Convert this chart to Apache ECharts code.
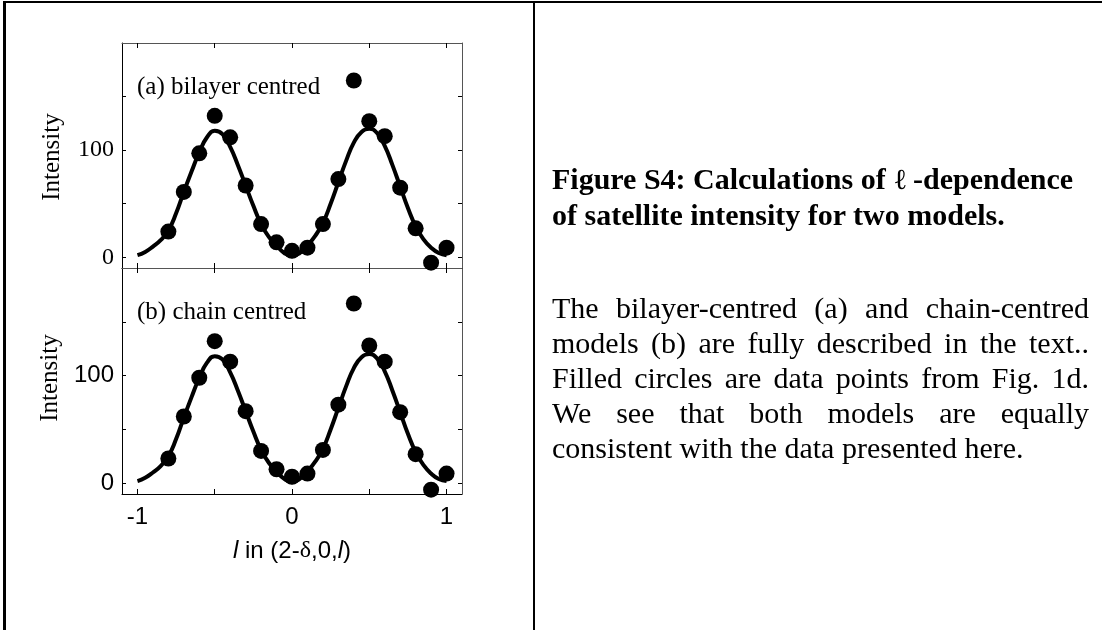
<!DOCTYPE html>
<html>
<head>
<meta charset="utf-8">
<script src="https://cdn.jsdelivr.net/npm/echarts@6/dist/echarts.min.js"></script>
<style>
  html, body { margin: 0; padding: 0; background: #fff; }
  #wrap { position: relative; width: 1102px; height: 630px; overflow: hidden; }
  #chart { position: absolute; left: 0; top: 0; width: 1102px; height: 630px; }
  .caption { position: absolute; left: 552px; width: 537px; margin: 0; color: #000;
    font-family: "Liberation Serif", "DejaVu Serif", serif; font-size: 30px; line-height: 35px; }
  #head { top: 161px; font-weight: bold; text-align: left; }
  #head .ell { font-weight: normal; font-family: "DejaVu Serif", serif; font-size: 29px; }
  #body { top: 290px; text-align: justify; }
</style>
</head>
<body>
<div id="wrap">
  <div id="chart"></div>
  <p id="head" class="caption">Figure S4: Calculations of <span class="ell">ℓ</span>&thinsp;-dependence of satellite intensity for two models.</p>
  <p id="body" class="caption">The bilayer-centred (a) and chain-centred models (b) are fully described in the text.. Filled circles are data points from Fig. 1d. We see that both models are equally consistent with the data presented here.</p>
</div>
<script>
// measured points, l = -0.8 .. 1.0
const lData = [-0.8, -0.7, -0.6, -0.5, -0.4, -0.3, -0.2, -0.1, 0, 0.1, 0.2, 0.3, 0.4, 0.5, 0.6, 0.7, 0.8, 0.9, 1.0]
const intensityA = [24, 61, 97, 132, 112, 67, 31, 14, 6, 9, 31, 73, 165, 127, 113, 65, 27, -5, 9]
const intensityB = [23, 62, 98, 132, 113, 67, 30, 13, 6, 9, 31, 73, 167, 128, 113, 66, 27, -6, 9]

// model curves
const lFit = [-1, -0.95, -0.9, -0.85, -0.8, -0.75, -0.7, -0.65, -0.6, -0.55, -0.5, -0.45, -0.4, -0.35, -0.3, -0.25, -0.2, -0.15, -0.1, -0.05, 0,
  0.05, 0.1, 0.15, 0.2, 0.25, 0.3, 0.35, 0.4, 0.45, 0.5, 0.55, 0.6, 0.65, 0.7, 0.75, 0.8, 0.85, 0.9, 0.95, 1]
const fitA = [2, 5, 10, 16, 25, 41, 61, 80, 98, 112, 118, 115, 103, 86, 67, 48, 31, 19, 11, 4, 1,
  4, 11, 20, 32, 50, 70, 90, 107, 117, 120, 116, 104, 86, 66, 46, 29, 17, 9, 4, 2]
const fitB = [2, 5, 10, 16, 25, 41, 61, 80, 98, 112, 118, 115, 103, 86, 67, 48, 31, 19, 11, 4, 1,
  4, 11, 20, 32, 50, 70, 90, 107, 117, 120, 116, 104, 86, 66, 46, 29, 17, 9, 4, 2]

const xTicks = [-1, -0.5, 0, 0.5, 1]
const xTickLabels = [-1, 0, 1]
const yTicks = [0, 50, 100, 150]
const yTickLabels = [0, 100]

const SERIF = 'Liberation Serif'
const SANS = 'Liberation Sans'

function pairs(xs, ys) {
  return xs.map((x, i) => [x, ys[i]])
}

function xAxisOf(gridIndex, position, labelsOn) {
  return {
    type: 'value',
    gridIndex: gridIndex,
    position: position,
    min: -1.1,
    max: 1.1,
    axisLine: { show: true, onZero: false, lineStyle: { color: position === 'top' ? '#555' : '#000', width: 1 } },
    axisTick: { show: true, inside: true, length: 5, customValues: xTicks, lineStyle: { color: '#000' } },
    axisLabel: {
      show: labelsOn,
      customValues: xTickLabels,
      margin: 11,
      color: '#000',
      fontFamily: SANS,
      fontSize: 24
    },
    splitLine: { show: false }
  }
}

function yAxisOf(gridIndex, position, labelFont) {
  return {
    type: 'value',
    gridIndex: gridIndex,
    position: position,
    min: -10,
    max: 200,
    axisLine: { show: true, onZero: false, lineStyle: { color: position === 'right' ? '#555' : '#000', width: 1 } },
    axisTick: { show: true, inside: true, length: 4, customValues: yTicks, lineStyle: { color: '#000' } },
    axisLabel: {
      show: !!labelFont,
      customValues: yTickLabels,
      margin: 8,
      color: '#000',
      fontFamily: labelFont || SANS,
      fontSize: 24
    },
    splitLine: { show: false }
  }
}

const chart = echarts.init(document.getElementById('chart'), null, { renderer: 'canvas' })

const bottomX = xAxisOf(1, 'bottom', true)
bottomX.name = '{i|l} in (2-{d|δ},0,{i|l})'
bottomX.nameLocation = 'middle'
bottomX.nameGap = 45
bottomX.nameTextStyle = {
  color: '#000',
  fontFamily: SANS,
  fontSize: 24,
  rich: {
    i: { fontFamily: SANS, fontStyle: 'italic', fontSize: 24, color: '#000' },
    d: { fontFamily: SERIF, fontSize: 24, color: '#000' }
  }
}

const option = {
  animation: false,
  backgroundColor: '#fff',
  grid: [
    { left: 122, top: 43, width: 340, height: 225 },
    { left: 122, top: 268, width: 340, height: 226 }
  ],
  xAxis: [
    xAxisOf(0, 'bottom', false),
    xAxisOf(0, 'top', false),
    bottomX,
    xAxisOf(1, 'top', false)
  ],
  yAxis: [
    yAxisOf(0, 'left', SERIF),
    yAxisOf(0, 'right', null),
    yAxisOf(1, 'left', SANS),
    yAxisOf(1, 'right', null)
  ],
  series: [
    {
      name: 'model a',
      type: 'line',
      xAxisIndex: 0,
      yAxisIndex: 0,
      data: pairs(lFit, fitA),
      smooth: true,
      showSymbol: false,
      lineStyle: { color: '#000', width: 4 }
    },
    {
      name: 'data a',
      type: 'scatter',
      xAxisIndex: 0,
      yAxisIndex: 0,
      data: pairs(lData, intensityA),
      symbolSize: 16,
      itemStyle: { color: '#000', opacity: 1 }
    },
    {
      name: 'model b',
      type: 'line',
      xAxisIndex: 2,
      yAxisIndex: 2,
      data: pairs(lFit, fitB),
      smooth: true,
      showSymbol: false,
      lineStyle: { color: '#000', width: 4 }
    },
    {
      name: 'data b',
      type: 'scatter',
      xAxisIndex: 2,
      yAxisIndex: 2,
      data: pairs(lData, intensityB),
      symbolSize: 16,
      itemStyle: { color: '#000', opacity: 1 }
    }
  ],
  graphic: [
    // page frame
    { type: 'rect', shape: { x: 3, y: 1, width: 3, height: 629 }, style: { fill: '#000' } },
    { type: 'rect', shape: { x: 3, y: 1, width: 1099, height: 2 }, style: { fill: '#000' } },
    { type: 'rect', shape: { x: 533, y: 1, width: 2, height: 629 }, style: { fill: '#000' } },
    // panel labels
    {
      type: 'text', x: 137, y: 87,
      style: { text: '(a) bilayer centred', font: '25px "Liberation Serif"', fill: '#000', textAlign: 'left', textVerticalAlign: 'middle' }
    },
    {
      type: 'text', x: 137, y: 312,
      style: { text: '(b) chain centred', font: '25px "Liberation Serif"', fill: '#000', textAlign: 'left', textVerticalAlign: 'middle' }
    },
    {
      type: 'text', x: 52, y: 157, rotation: Math.PI / 2,
      style: { text: 'Intensity', font: '25px "Liberation Serif"', fill: '#000', textAlign: 'center', textVerticalAlign: 'middle' }
    },
    {
      type: 'text', x: 50, y: 378, rotation: Math.PI / 2,
      style: { text: 'Intensity', font: '25px "Liberation Serif"', fill: '#000', textAlign: 'center', textVerticalAlign: 'middle' }
    }
  ]
}

chart.setOption(option)
</script>
</body>
</html>
